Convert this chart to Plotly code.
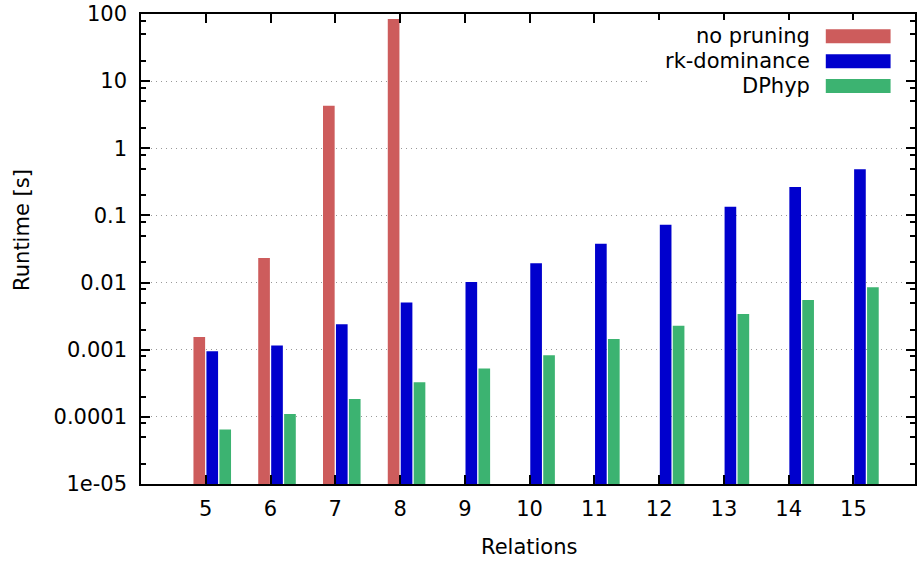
import plotly.graph_objects as go

relations = [5, 6, 7, 8, 9, 10, 11, 12, 13, 14, 15]
no_pruning = [0.00155, 0.0232, 4.3, 84.0, None, None, None, None, None, None, None]
rk_dominance = [0.00095, 0.00116, 0.00239, 0.00507, 0.0102, 0.0194, 0.038, 0.0728, 0.135, 0.265, 0.486]
dphyp = [0.000065, 0.00011, 0.000185, 0.000327, 0.000527, 0.000824, 0.00144, 0.00228, 0.0034, 0.0055, 0.0085]

series_names = ["no pruning", "rk-dominance", "DPhyp"]
series_colors = ["#CD5C5C", "#0000CD", "#3CB371"]
y_tickvals = [1e-5, 1e-4, 1e-3, 1e-2, 1e-1, 1, 10, 100]
y_ticktext = ["1e-05", "0.0001", "0.001", "0.01", "0.1", "1", "10", "100"]

W, H = 917, 563
L, R, T, B = 140.5, 0, 14, 79
PW, PH = W - L - R, H - T - B

def px(x):
    return (x - L) / PW

def py(y):
    return (H - B - y) / PH

FONT = "DejaVu Sans"
FS = 21
fig = go.Figure()
offsets = [-0.19, 0.01, 0.21]
for vals, name, col, off in zip([no_pruning, rk_dominance, dphyp], series_names, series_colors, offsets):
    fig.add_trace(go.Bar(x=relations, y=vals, name=name, marker=dict(color=col, line=dict(width=0)),
                         width=0.18, offset=off, showlegend=False))

minor_vals = [m * 10 ** e for e in range(-5, 2) for m in (2, 5, 8)]

fig.update_layout(
    width=W, height=H, margin=dict(l=L, r=R, t=T, b=B, pad=0),
    paper_bgcolor="white", plot_bgcolor="white", barmode="overlay",
    font=dict(family=FONT, size=FS, color="#000"),
    xaxis=dict(range=[4, 15.95], tickvals=relations, ticktext=[str(r) for r in relations],
               ticks="inside", ticklen=9, tickwidth=1.5, tickcolor="#000",
               showline=True, linecolor="#000", linewidth=1.5, mirror="allticks",
               showgrid=False, zeroline=False, ticklabelstandoff=5),
    yaxis=dict(type="log", range=[-5, 2], tickvals=y_tickvals, ticktext=y_ticktext,
               ticks="inside", ticklen=9, tickwidth=1.5, tickcolor="#000",
               showline=True, linecolor="#000", linewidth=1.5, mirror="allticks",
               showgrid=True, gridcolor="#999", griddash="1px,4px", gridwidth=1,
               zeroline=False, ticklabelstandoff=8,
               minor=dict(tickvals=minor_vals, ticks="inside", ticklen=5, tickwidth=1.5,
                          tickcolor="#000", showgrid=False)),
)

shapes = []
# legend background (masks gridlines)
shapes.append(dict(type="rect", xref="paper", yref="paper", x0=px(650), x1=px(906), y0=py(98), y1=py(20),
                   fillcolor="white", line=dict(width=0), layer="above"))
annotations = []
rows = [36.3, 61.3, 86]
for name, col, yc in zip(series_names, series_colors, rows):
    shapes.append(dict(type="rect", xref="paper", yref="paper", x0=px(827.5), x1=px(892.5),
                       y0=py(yc + 7), y1=py(yc - 7), fillcolor=col, line=dict(width=0), layer="above"))
    annotations.append(dict(text=name, xref="paper", yref="paper", x=px(814), y=py(yc),
                            xanchor="right", yanchor="middle", showarrow=False,
                            font=dict(family=FONT, size=FS, color="#000")))

annotations.append(dict(text="Runtime [s]", xref="paper", yref="paper", x=px(21), y=py(230),
                        textangle=-90, xanchor="center", yanchor="middle", showarrow=False,
                        font=dict(family=FONT, size=FS, color="#000")))
annotations.append(dict(text="Relations", xref="paper", yref="paper", x=px(530), y=py(547),
                        xanchor="center", yanchor="middle", showarrow=False,
                        font=dict(family=FONT, size=FS, color="#000")))
fig.update_layout(shapes=shapes, annotations=annotations)

fig.write_html("out.html")
